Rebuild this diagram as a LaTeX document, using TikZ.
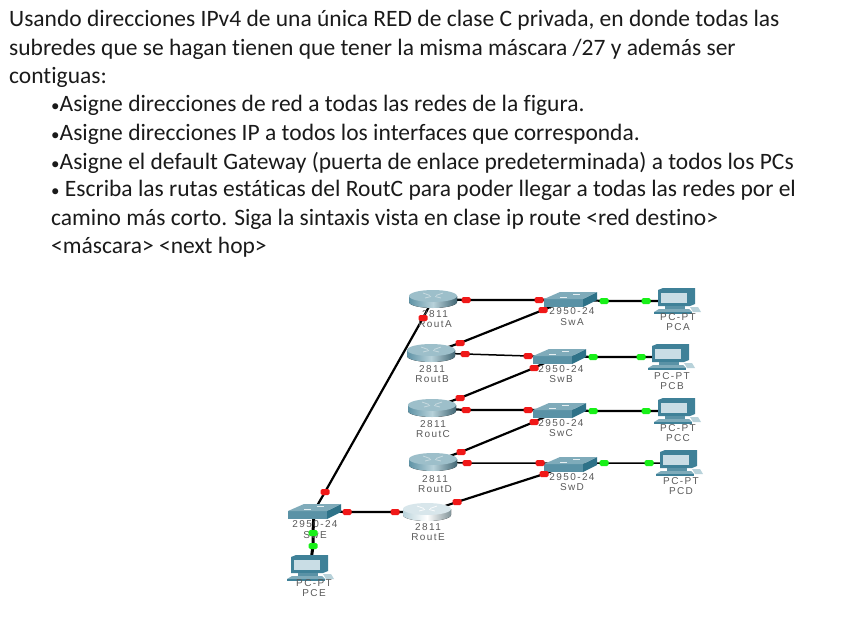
\documentclass[tikz,border=0pt]{standalone}
\usepackage{fontspec}
\setmainfont{Carlito}[Ligatures={NoCommon}]
\newfontfamily\lblfont[LetterSpace=14]{Liberation Sans}
\usetikzlibrary{shapes.geometric}
\pgfdeclarelayer{lines}\pgfdeclarelayer{dots}
\pgfsetlayers{lines,main,dots}
\definecolor{txt}{HTML}{1A1A1A}
\definecolor{sw}{HTML}{5A92A6}
\definecolor{swtop}{HTML}{7FABBA}
\definecolor{swside}{HTML}{2E7288}
\definecolor{rt}{HTML}{5F93A6}
\definecolor{rtlight}{HTML}{B8D2DA}
\definecolor{scr}{HTML}{C9DDE5}
\definecolor{pcb}{HTML}{3F8198}
\definecolor{redp}{HTML}{F01818}
\definecolor{grnp}{HTML}{18F018}
\newcommand{\smbul}{{\fontsize{17}{20}\selectfont •}}
\tikzset{
 para/.style={anchor=west,inner sep=0pt,font=\fontsize{23.5}{26}\selectfont,text=txt},
 dev/.style={inner sep=0pt,minimum size=1pt},
 lbl/.style={align=center,inner sep=0pt,text=black!65,font=\lblfont\fontsize{10}{10.5}\selectfont},
 rd/.style={fill=redp,draw=none,rounded corners=1.5pt,minimum width=9pt,minimum height=6pt,inner sep=0pt},
 gd/.style={fill=grnp,draw=none,rounded corners=1.5pt,minimum width=9pt,minimum height=6pt,inner sep=0pt},
 wire/.style={draw=black,line width=2.2pt},
 thinwire/.style={draw=black,line width=1.5pt},
 pics/routericon/.style n args={3}{code={
   \fill[left color=#2,right color=#2!70!black,middle color=#3] (-24,-3) -- (-24,3) arc[start angle=180,end angle=0,x radius=24,y radius=6] -- (24,-3) -- cycle;
   \fill[#1] (0,-3) ellipse[x radius=24,y radius=6];
   \draw[white!85!#1,line width=0.8pt] (-10,-6) -- (-3,-3.5) (10,-6) -- (3,-3.5) (-8,-1) -- (-2,-2.5) (8,-1) -- (2,-2.5);
 }},
 pics/switchicon/.style={code={
   \fill[sw] (-26,0) rectangle (13,8);
   \fill[swside] (13,0) -- (27,-7) -- (27,1) -- (13,8) -- cycle;
   \fill[swtop] (-26,0) -- (-10,-7) -- (27,-7) -- (13,0) -- cycle;
   \draw[white!80!swtop,line width=0.7pt] (-10,-2) -- (-3,-2) (3,-4.5) -- (10,-4.5);
 }},
 pics/pcicon/.style={code={
   \fill[pcb] (-19,-11) -- (-14,-13) -- (18,-13) -- (18,3) -- (13,5) -- (-19,5) -- cycle;
   \fill[scr] (-16,-8) rectangle (10,2);
   \fill[sw] (-12,5) rectangle (8,8);
   \fill[swtop] (-18,8) -- (12,8) -- (15,11) -- (-23,11) -- cycle;
   \fill[pcb] (-23,11) rectangle (15,12.5);
   \fill[rtlight] (13,6) -- (21,6) -- (24,11) -- (16,11) -- cycle;
 }},
}
\begin{document}
\begin{tikzpicture}[x=1pt,y=-1pt]
\useasboundingbox (0,0) rectangle (848,636);
% text
\node[para] (t1) at (9,20.5) {Usando direcciones IPv4 de una única RED de clase C privada, en donde todas las};
\node[para] (t2) at (9,49) {subredes que se hagan tienen que tener la misma máscara /27 y además ser};
\node[para] (t3) at (9,77.5) {contiguas:};
\node[para] (t4) at (51,105.5) {\smbul Asigne direcciones de red a todas las redes de la figura.};
\node[para] (t5) at (51,134) {\smbul Asigne direcciones IP a todos los interfaces que corresponda.};
\node[para] (t6) at (51,162.5) {\smbul Asigne el default Gateway (puerta de enlace predeterminada) a todos los PCs};
\node[para] (t7) at (51,190.5) {\smbul\ Escriba las rutas estáticas del RoutC para poder llegar a todas las redes por el};
\node[para] (t8) at (51,219) {camino más corto. Siga la sintaxis vista en clase ip route <red destino>};
\node[para] (t9) at (51,247.5) {<máscara> <next hop>};
% device anchors
\node[dev] (ra) at (433,299) {};
\node[dev] (rb) at (431,353) {};
\node[dev] (rc) at (432,408) {};
\node[dev] (rd) at (433,462) {};
\node[dev] (re) at (427,512) {};
\node[dev] (sa) at (570,299) {};
\node[dev] (sb) at (559,356) {};
\node[dev] (sc) at (559,410) {};
\node[dev] (sd) at (570,464) {};
\node[dev] (se) at (314,511) {};
\node[dev] (pa) at (677,301) {};
\node[dev] (pb) at (671,357) {};
\node[dev] (pc) at (677,411) {};
\node[dev] (pd) at (679,463) {};
\node[dev] (pe) at (310,568) {};
% dots and wires
\begin{pgfonlayer}{dots}
\node[rd] (a1) at (466,300) {}; \node[rd] (a2) at (539,300) {};
\node[rd] (a3) at (423,318) {}; \node[rd] (a4) at (325,492) {};
\node[rd] (b1) at (460,343) {}; \node[rd] (b2) at (543,310) {};
\node[rd] (b3) at (465,354) {}; \node[rd] (b4) at (528,356) {};
\node[rd] (c1) at (460,398) {}; \node[rd] (c2) at (534,368) {};
\node[rd] (c3) at (466,410) {}; \node[rd] (c4) at (528,410) {};
\node[rd] (d1) at (461,452) {}; \node[rd] (d2) at (534,422) {};
\node[rd] (d3) at (467,463) {}; \node[rd] (d4) at (540,463) {};
\node[rd] (e1) at (457,502) {}; \node[rd] (e2) at (544,474) {};
\node[rd] (e3) at (347,512) {}; \node[rd] (e4) at (395,512) {};
\node[gd] (g1) at (604,301) {}; \node[gd] (g2) at (646,301) {};
\node[gd] (g3) at (593,357) {}; \node[gd] (g4) at (641,357) {};
\node[gd] (g5) at (593,411) {}; \node[gd] (g6) at (646,411) {};
\node[gd] (g7) at (604,463) {}; \node[gd] (g8) at (649,463) {};
\node[gd] (g9) at (313,533) {}; \node[gd] (g10) at (313,546) {};
\end{pgfonlayer}
\begin{pgfonlayer}{lines}
\draw[wire] (ra) -- (a1.center) -- (a2.center) -- (sa);
\draw[wire] (ra) -- (a3.center) -- (a4.center) -- (se);
\draw[wire] (rb) -- (b1.center) -- (b2.center) -- (sa);
\draw[thinwire] (rb) -- (b3.center) -- (b4.center) -- (sb);
\draw[wire] (rc) -- (c1.center) -- (c2.center) -- (sb);
\draw[wire] (rc) -- (c3.center) -- (c4.center) -- (sc);
\draw[wire] (rd) -- (d1.center) -- (d2.center) -- (sc);
\draw[thinwire] (rd) -- (d3.center) -- (d4.center) -- (sd);
\draw[wire] (re) -- (e1.center) -- (e2.center) -- (sd);
\draw[wire] (se) -- (e3.center) -- (e4.center) -- (re);
\draw[wire] (sa) -- (g1.center) -- (g2.center) -- (pa);
\draw[wire] (sb) -- (g3.center) -- (g4.center) -- (pb);
\draw[wire] (sc) -- (g5.center) -- (g6.center) -- (pc);
\draw[thinwire] (sd) -- (g7.center) -- (g8.center) -- (pd);
\draw[line width=3pt] (se) -- (g9.center) -- (g10.center) -- (pe);
\end{pgfonlayer}
% icons
\pic at (ra) {routericon={rtlight!70!rt}{rt}{rtlight}};
\pic at (rb) {routericon={rtlight!70!rt}{rt}{rtlight}};
\pic at (rc) {routericon={rtlight!70!rt}{rt}{rtlight}};
\pic at (rd) {routericon={rtlight!70!rt}{rt}{rtlight}};
\pic at (re) {routericon={rtlight!55!white}{rtlight}{white}};
\pic at (sa) {switchicon};
\pic at (sb) {switchicon};
\pic at (sc) {switchicon};
\pic at (sd) {switchicon};
\pic at (se) {switchicon};
\pic at (pa) {pcicon};
\pic at (pb) {pcicon};
\pic at (pc) {pcicon};
\pic at (pd) {pcicon};
\pic at (pe) {pcicon};
% labels
\node[lbl] (lra) at (435,319) {2811\\RoutA};
\node[lbl] (lrb) at (432,374) {2811\\RoutB};
\node[lbl] (lrc) at (433,429) {2811\\RoutC};
\node[lbl] (lrd) at (435,484) {2811\\RoutD};
\node[lbl] (lre) at (428,532) {2811\\RoutE};
\node[lbl] (lsa) at (572,316.5) {2950-24\\SwA};
\node[lbl] (lsb) at (561,374) {2950-24\\SwB};
\node[lbl] (lsc) at (561,428) {2950-24\\SwC};
\node[lbl] (lsd) at (572,482) {2950-24\\SwD};
\node[lbl] (lse) at (315,529.5) {2950-24\\SwE};
\node[lbl] (lpa) at (678,322) {PC-PT\\PCA};
\node[lbl] (lpb) at (672,381) {PC-PT\\PCB};
\node[lbl] (lpc) at (678,433) {PC-PT\\PCC};
\node[lbl] (lpd) at (681,486) {PC-PT\\PCD};
\node[lbl] (lpe) at (314,588) {PC-PT\\PCE};
\end{tikzpicture}
\end{document}
